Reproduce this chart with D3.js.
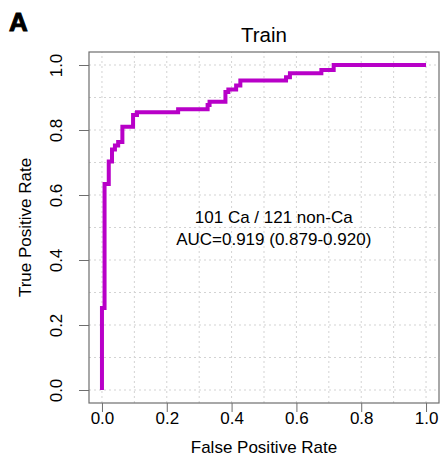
<!DOCTYPE html>
<html>
<head>
<meta charset="utf-8">
<script src="https://cdn.jsdelivr.net/npm/d3@7"></script>
<style>
  body { margin: 0; background: #fff; }
  svg text { font-family: "Liberation Sans", Arial, Helvetica, sans-serif; fill: #000; }
</style>
</head>
<body>
<div id="chart"></div>
<script>
// ROC points: each is the top of a vertical run
var fpr = [0, 0, 0.008, 0.021, 0.031, 0.040, 0.050, 0.063, 0.096, 0.108,
           0.235, 0.326, 0.332, 0.381, 0.390, 0.414, 0.427, 0.568, 0.580,
           0.677, 0.715, 1.0];
var tpr = [0, 0.252, 0.634, 0.703, 0.740, 0.752, 0.763, 0.810, 0.846, 0.855,
           0.864, 0.877, 0.887, 0.917, 0.925, 0.937, 0.952, 0.962, 0.975,
           0.985, 1.0, 1.0];

var ticks = [0, 0.2, 0.4, 0.6, 0.8, 1.0];
var gridVals = d3.range(0, 11).map(function(i) { return i / 10; });

var title = "Train";
var panelLabel = "A";
var xTitle = "False Positive Rate";
var yTitle = "True Positive Rate";
var note = ["101 Ca / 121 non-Ca", "AUC=0.919 (0.879-0.920)"];

var width = 442, height = 457;

var svg = d3.select("#chart").append("svg")
    .attr("width", width)
    .attr("height", height);

var x = d3.scaleLinear().domain([-0.04, 1.04]).range([89, 439]);
var y = d3.scaleLinear().domain([-0.04, 1.04]).range([403, 52]);

// dotted grid, every 0.1
var grid = svg.append("g").attr("class", "grid")
    .attr("stroke", "#d3d3d3")
    .attr("stroke-width", 1)
    .attr("stroke-dasharray", "2,3");

grid.selectAll("line.v").data(gridVals).enter().append("line")
    .attr("class", "v")
    .attr("x1", function(d) { return x(d); })
    .attr("x2", function(d) { return x(d); })
    .attr("y1", y.range()[0])
    .attr("y2", y.range()[1]);

grid.selectAll("line.h").data(gridVals).enter().append("line")
    .attr("class", "h")
    .attr("y1", function(d) { return y(d); })
    .attr("y2", function(d) { return y(d); })
    .attr("x1", x.range()[0])
    .attr("x2", x.range()[1]);

// axes
var xAxis = svg.append("g")
    .attr("transform", "translate(0," + y.range()[0] + ")")
    .call(d3.axisBottom(x).tickValues(ticks).tickFormat(d3.format(".1f")).tickSize(9).tickPadding(4));

var yAxis = svg.append("g")
    .attr("transform", "translate(" + x.range()[0] + ",0)")
    .call(d3.axisLeft(y).tickValues(ticks).tickFormat(d3.format(".1f")).tickSize(10).tickPadding(0));

[xAxis, yAxis].forEach(function(a) {
    a.select(".domain").remove();
    a.selectAll(".tick line").attr("stroke", "#6e6e6e");
    a.selectAll(".tick text").attr("font-size", 17).attr("fill", "#000");
});

xAxis.selectAll(".tick text").attr("dy", null).attr("y", 21);

yAxis.selectAll(".tick text")
    .attr("x", null).attr("dy", null)
    .attr("text-anchor", "middle")
    .attr("transform", "translate(-27,0) rotate(-90)");

// plot box
svg.append("rect")
    .attr("x", x.range()[0])
    .attr("y", y.range()[1])
    .attr("width", x.range()[1] - x.range()[0])
    .attr("height", y.range()[0] - y.range()[1])
    .attr("fill", "none")
    .attr("stroke", "#6e6e6e")
    .attr("stroke-width", 1.2);

// ROC curve
var pts = fpr.map(function(f, i) { return [f, tpr[i]]; });
var line = d3.line()
    .x(function(d) { return x(d[0]); })
    .y(function(d) { return y(d[1]); })
    .curve(d3.curveStepAfter);

svg.append("path")
    .datum(pts)
    .attr("d", line)
    .attr("fill", "none")
    .attr("stroke", "#b800c8")
    .attr("stroke-width", 4)
    .attr("stroke-linejoin", "miter");

// annotation
svg.selectAll("text.note").data(note).enter().append("text")
    .attr("class", "note")
    .attr("x", x(0.53))
    .attr("y", function(d, i) { return 223 + i * 22; })
    .attr("text-anchor", "middle")
    .attr("font-size", 17)
    .text(function(d) { return d; });

// titles
svg.append("text")
    .attr("x", (x.range()[0] + x.range()[1]) / 2)
    .attr("y", 42)
    .attr("text-anchor", "middle")
    .attr("font-size", 20.5)
    .text(title);

svg.append("text")
    .attr("x", (x.range()[0] + x.range()[1]) / 2)
    .attr("y", 453)
    .attr("text-anchor", "middle")
    .attr("font-size", 17)
    .text(xTitle);

svg.append("text")
    .attr("transform", "translate(31," + y(0.5) + ") rotate(-90)")
    .attr("text-anchor", "middle")
    .attr("font-size", 17)
    .text(yTitle);

// panel letter, wide and heavy like the original
svg.append("text")
    .attr("x", 9)
    .attr("y", 31)
    .style("font-family", "'Liberation Sans', Arial, sans-serif")
    .style("font-size", "26px")
    .style("font-weight", "bold")
    .style("fill", "#000")
    .style("stroke", "#000")
    .style("stroke-width", "1px")
    .text(panelLabel);
</script>
</body>
</html>
